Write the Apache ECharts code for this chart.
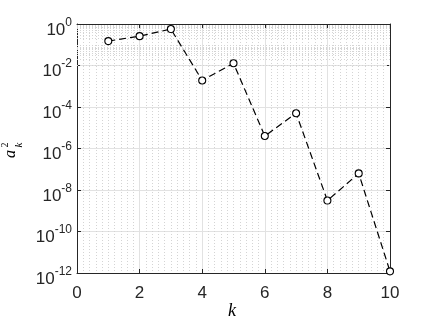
<!DOCTYPE html>
<html>
<head>
<meta charset="utf-8">
<script src="https://cdn.jsdelivr.net/npm/echarts@6/dist/echarts.min.js"></script>
<style>
  html, body { margin: 0; padding: 0; background: #fff; }
  #chart { width: 432px; height: 327px; }
</style>
</head>
<body>
<div id="chart"></div>
<script>
// values
const kValues = [1, 2, 3, 4, 5, 6, 7, 8, 9, 10]
const ak2 = [0.15, 0.26, 0.57, 1.9e-3, 1.28e-2, 4.0e-6, 5.0e-5, 3.1e-9, 6.3e-8, 1.2e-12]
const xTicks = [0, 2, 4, 6, 8, 10]
const yExponents = [0, -2, -4, -6, -8, -10, -12]

const AXIS = '#262626'
const FONT = 'Liberation Sans'

// minor grid of a log axis: 1..9 times every decade (major decades left out)
const minorY = []
for (let e = -12; e < 0; e++) {
  for (let m = 1; m <= 9; m++) {
    if (m === 1 && e % 2 === 0) continue
    minorY.push({ yAxis: m * Math.pow(10, e) })
  }
}

const chart = echarts.init(document.getElementById('chart'), null, { renderer: 'canvas' })

const yLabel = function (v) {
  const ex = Math.round(Math.log10(v))
  return '{b|10}{s|' + ex + '}'
}

chart.setOption({
  animation: false,
  grid: { left: 77, top: 24, width: 313, height: 249 },
  xAxis: [{
    type: 'value',
    min: xTicks[0],
    max: xTicks[xTicks.length - 1],
    interval: 2,
    axisLine: { lineStyle: { color: AXIS, width: 1 } },
    axisTick: { inside: true, length: 4, lineStyle: { color: AXIS } },
    axisLabel: { color: AXIS, fontFamily: FONT, fontSize: 17, margin: 12 },
    splitLine: { show: true, lineStyle: { color: '#e2e2e2', width: 1 } },
    minorTick: { show: false, splitNumber: 10 },
    minorSplitLine: { show: true, lineStyle: { color: '#d4d4d4', width: 1, type: [1, 2] } }
  }, {
    type: 'value',
    position: 'top',
    min: xTicks[0],
    max: xTicks[xTicks.length - 1],
    interval: 2,
    axisLine: { show: true, onZero: false, lineStyle: { color: AXIS, width: 1 } },
    axisTick: { show: true, inside: true, length: 4, lineStyle: { color: AXIS } },
    axisLabel: { show: false },
    splitLine: { show: false }
  }],
  yAxis: [{
    type: 'log',
    logBase: 10,
    min: Math.pow(10, yExponents[yExponents.length - 1]),
    max: Math.pow(10, yExponents[0]),
    interval: 2,
    axisLine: { show: true, lineStyle: { color: AXIS, width: 1 } },
    axisTick: { show: true, inside: true, length: 4, lineStyle: { color: AXIS } },
    axisLabel: {
      margin: 5,
      padding: [7, 0, 0, 0],
      formatter: yLabel,
      rich: {
        b: { color: AXIS, fontFamily: FONT, fontSize: 17, lineHeight: 22, verticalAlign: 'bottom' },
        s: { color: AXIS, fontFamily: FONT, fontSize: 12, lineHeight: 22, verticalAlign: 'top' }
      }
    },
    splitLine: { show: true, lineStyle: { color: '#e2e2e2', width: 1 } }
  }, {
    type: 'log',
    logBase: 10,
    position: 'right',
    min: Math.pow(10, yExponents[yExponents.length - 1]),
    max: Math.pow(10, yExponents[0]),
    interval: 2,
    axisLine: { show: true, onZero: false, lineStyle: { color: AXIS, width: 1 } },
    axisTick: { show: true, inside: true, length: 4, lineStyle: { color: AXIS } },
    axisLabel: { show: false },
    splitLine: { show: false }
  }],
  graphic: [{
    type: 'text',
    left: 228,
    top: 302,
    style: { text: 'k', font: 'italic 18px "Liberation Serif"', fill: '#000' }
  }, {
    type: 'group',
    x: 11,
    y: 151,
    rotation: Math.PI / 2,
    children: [
      { type: 'text', x: -3, y: 0, style: { text: 'a', font: 'italic 16px "Liberation Serif"', fill: '#000', align: 'center', verticalAlign: 'middle' } },
      { type: 'text', x: 6, y: -6, style: { text: '2', font: '10px "Liberation Serif"', fill: '#000', align: 'center', verticalAlign: 'middle' } },
      { type: 'text', x: 6, y: 8, style: { text: 'k', font: 'italic 11px "Liberation Serif"', fill: '#000', align: 'center', verticalAlign: 'middle' } }
    ]
  }],
  series: [{
    type: 'line',
    data: kValues.map((k, i) => [k, ak2[i]]),
    symbol: 'circle',
    symbolSize: 7,
    showAllSymbol: true,
    itemStyle: { color: '#fff', borderColor: '#000', borderWidth: 1.1 },
    lineStyle: { color: '#000', width: 1.2, type: [7, 4] },
    z: 5,
    markLine: {
      silent: true,
      symbol: 'none',
      label: { show: false },
      lineStyle: { color: '#d4d4d4', width: 1, type: [1, 2] },
      data: minorY,
      z: 1
    }
  }]
})
</script>
</body>
</html>
